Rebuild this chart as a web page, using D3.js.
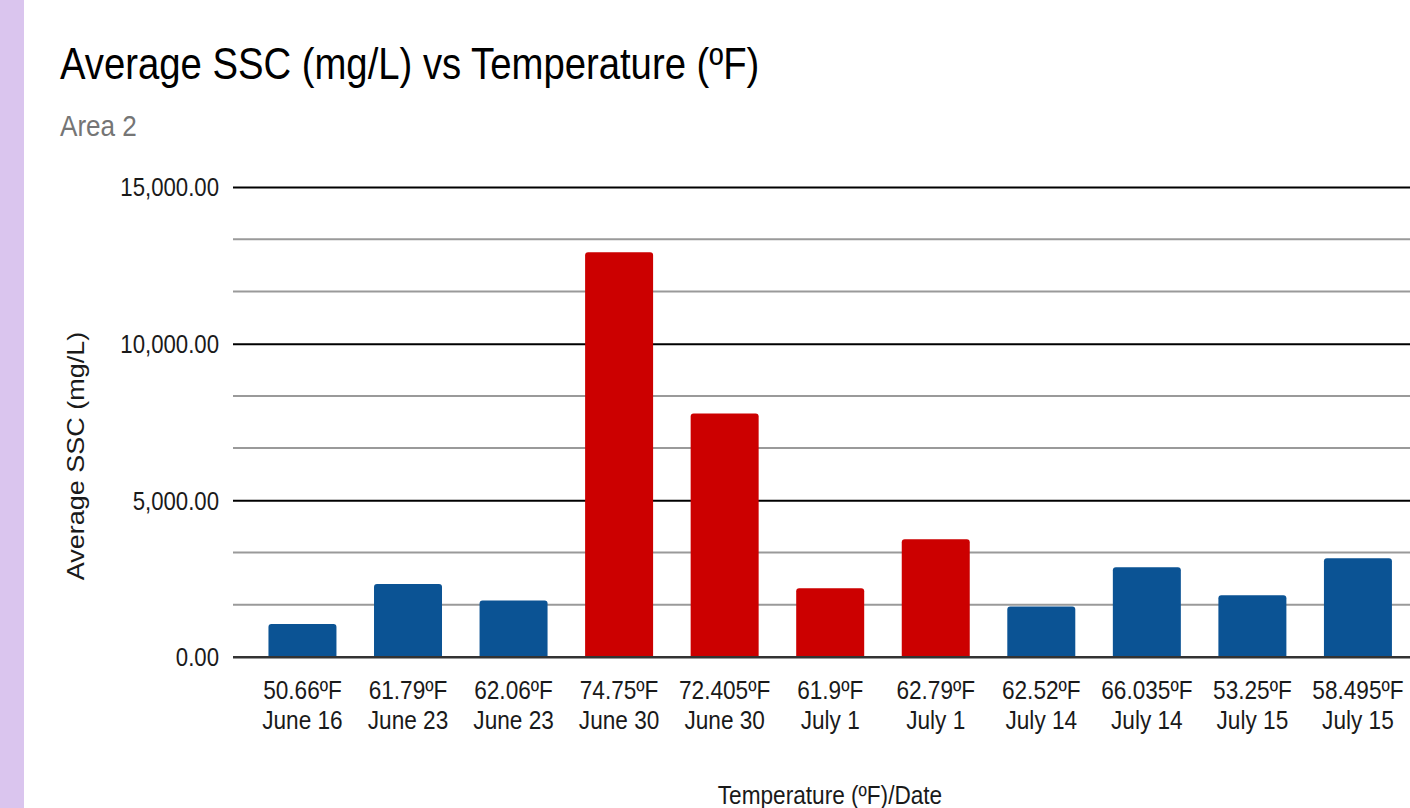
<!DOCTYPE html>
<html>
<head>
<meta charset="utf-8">
<script src="https://cdn.jsdelivr.net/npm/d3@7"></script>
<style>
  html, body { margin: 0; padding: 0; background: #ffffff; }
  svg { display: block; }
  text { font-family: "Liberation Sans", Arial, sans-serif; }
</style>
</head>
<body>
<svg id="chart" width="1410" height="808"></svg>
<script>
// Sample temperature (x label, first line)
const tempLabels = ["50.66ºF", "61.79ºF", "62.06ºF", "74.75ºF", "72.405ºF", "61.9ºF",
                    "62.79ºF", "62.52ºF", "66.035ºF", "53.25ºF", "58.495ºF"];
// Sample date (x label, second line)
const dateLabels = ["June 16", "June 23", "June 23", "June 30", "June 30", "July 1",
                    "July 1", "July 14", "July 14", "July 15", "July 15"];
// Average suspended sediment concentration, mg/L
const avgSSC = [1055, 2330, 1800, 12920, 7775, 2195, 3760, 1610, 2865, 1970, 3155];
// Which samples are flagged (drawn in red)
const sampleGroup = ["normal", "normal", "normal", "flagged", "flagged", "flagged",
                     "flagged", "normal", "normal", "normal", "normal"];
// Y axis labelled ticks
const yTickValues = [0, 5000, 10000, 15000];

const svg = d3.select("#chart");
const W = 1410, H = 808;
const SX = 0.87;               // horizontal squeeze applied to all text
const plot = { left: 233, right: 1427.4, top: 187, bottom: 657 };

// purple side strip
svg.append("rect").attr("x", 0).attr("y", 0).attr("width", 24).attr("height", H)
  .attr("fill", "#dac5ee");

function squeezedText(x, y, str, opts = {}) {
  const t = svg.append("text")
    .attr("transform", `translate(${x},${y}) scale(${SX},1)` + (opts.rotate ? ` rotate(${opts.rotate})` : ""))
    .attr("text-anchor", opts.anchor || "start")
    .attr("font-size", opts.size || 24)
    .attr("fill", opts.fill || "#000")
    .text(str);
  if (opts.dy) t.attr("dy", opts.dy);
  return t;
}

// Title and subtitle
squeezedText(60, 79, "Average SSC (mg/L) vs Temperature (ºF)", { size: 44, fill: "#000" });
squeezedText(60, 136, "Area 2", { size: 30, fill: "#757575" });

// Scales
const x = d3.scaleBand()
  .domain(d3.range(avgSSC.length))
  .range([plot.left, plot.right])
  .paddingInner(0.3558)
  .paddingOuter(0.336);

const y = d3.scaleLinear().domain([0, 15000]).range([plot.bottom, plot.top]);

const color = d3.scaleOrdinal().domain(["normal", "flagged"]).range(["#0b5394", "#cc0000"]);

// Minor gridlines (thirds between labelled ticks)
const minorTicks = d3.range(0, 15000, 5000 / 3).filter((v, i) => i % 3 !== 0);
svg.append("g").selectAll("line").data(minorTicks).join("line")
  .attr("x1", plot.left).attr("x2", plot.right)
  .attr("y1", d => y(d)).attr("y2", d => y(d))
  .attr("stroke", "#9a9a9a").attr("stroke-width", 2);

// Major gridlines via d3 axis
const yAxis = d3.axisLeft(y)
  .tickValues(yTickValues)
  .tickSize(-(plot.right - plot.left))
  .tickPadding(14)
  .tickFormat(d3.format(",.2f"));

const yg = svg.append("g").attr("transform", `translate(${plot.left},0)`).call(yAxis);
yg.select(".domain").remove();
yg.selectAll(".tick line")
  .attr("stroke", d => d === 0 ? "#333333" : "#000000")
  .attr("stroke-width", 2);
yg.selectAll(".tick text").remove();
yTickValues.forEach(v => {
  squeezedText(plot.left - 14, y(v), d3.format(",.2f")(v), { size: 25.5, anchor: "end", dy: "0.36em", fill: "#1a1a1a" });
});

// Bars with rounded top corners
function barPath(i) {
  const x0 = x(i), w = x.bandwidth();
  const yt = y(avgSSC[i]), yb = y(0);
  const r = Math.min(3, (yb - yt) / 2);
  return `M${x0},${yb} L${x0},${yt + r} Q${x0},${yt} ${x0 + r},${yt} ` +
         `L${x0 + w - r},${yt} Q${x0 + w},${yt} ${x0 + w},${yt + r} L${x0 + w},${yb} Z`;
}
svg.append("g").selectAll("path").data(d3.range(avgSSC.length)).join("path")
  .attr("d", barPath)
  .attr("fill", i => color(sampleGroup[i]));

// Baseline drawn over bar bottoms
svg.append("line")
  .attr("x1", plot.left).attr("x2", plot.right)
  .attr("y1", y(0)).attr("y2", y(0))
  .attr("stroke", "#333333").attr("stroke-width", 2);

// X category labels (two lines)
d3.range(avgSSC.length).forEach(i => {
  const cx = x(i) + x.bandwidth() / 2;
  squeezedText(cx, 699, tempLabels[i], { size: 26, anchor: "middle", fill: "#1a1a1a" });
  squeezedText(cx, 729, dateLabels[i], { size: 26, anchor: "middle", fill: "#1a1a1a" });
});

// Axis titles
squeezedText(830, 804, "Temperature (ºF)/Date", { size: 26, anchor: "middle", fill: "#1a1a1a" });
squeezedText(84, 456, "Average SSC (mg/L)", { size: 27, anchor: "middle", rotate: -90, fill: "#1a1a1a" });
</script>
</body>
</html>
